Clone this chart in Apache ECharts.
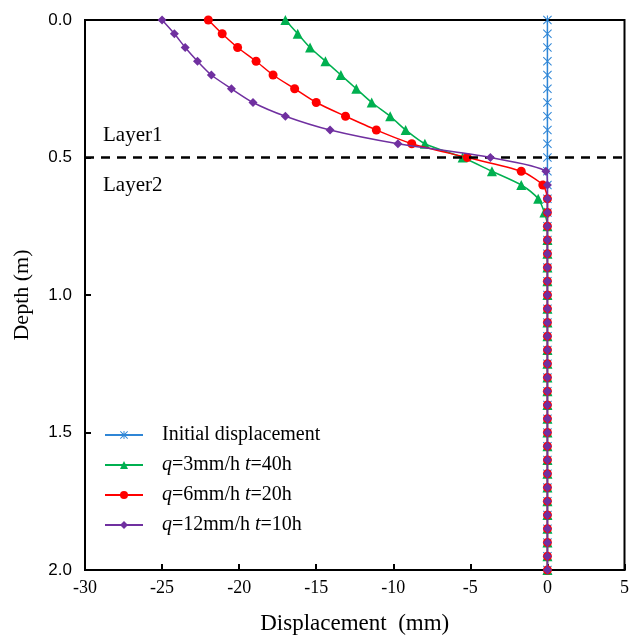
<!DOCTYPE html>
<html>
<head>
<meta charset="utf-8">
<script src="https://cdn.jsdelivr.net/npm/echarts@6/dist/echarts.min.js"></script>
<style>
  html, body { margin: 0; padding: 0; background: #fff; }
  #chart { width: 632px; height: 640px; }
</style>
</head>
<body>
<div id="chart"></div>
<script>
// Depth of each measuring point (m)
const depth = [0, 0.05, 0.1, 0.15, 0.2, 0.25, 0.3, 0.35, 0.4, 0.45, 0.5, 0.55, 0.6, 0.65, 0.7, 0.75, 0.8, 0.85, 0.9, 0.95,
  1.0, 1.05, 1.1, 1.15, 1.2, 1.25, 1.3, 1.35, 1.4, 1.45, 1.5, 1.55, 1.6, 1.65, 1.7, 1.75, 1.8, 1.85, 1.9, 1.95, 2.0];

// Horizontal displacement (mm) at each depth
const initialDisp = [0, 0, 0, 0, 0, 0, 0, 0, 0, 0, 0, 0, 0, 0, 0, 0, 0, 0, 0, 0,
  0, 0, 0, 0, 0, 0, 0, 0, 0, 0, 0, 0, 0, 0, 0, 0, 0, 0, 0, 0, 0];
const q3Disp = [-17.0, -16.2, -15.4, -14.4, -13.4, -12.4, -11.4, -10.2, -9.2, -7.95, -5.5, -3.6, -1.7, -0.6, -0.2, 0, 0, 0, 0, 0,
  0, 0, 0, 0, 0, 0, 0, 0, 0, 0, 0, 0, 0, 0, 0, 0, 0, 0, 0, 0, 0];
const q6Disp = [-22.0, -21.1, -20.1, -18.9, -17.8, -16.4, -15.0, -13.1, -11.1, -8.8, -5.2, -1.7, -0.3, 0, 0, 0, 0, 0, 0, 0,
  0, 0, 0, 0, 0, 0, 0, 0, 0, 0, 0, 0, 0, 0, 0, 0, 0, 0, 0, 0, 0];
const q12Disp = [-25.0, -24.2, -23.5, -22.7, -21.8, -20.5, -19.1, -17.0, -14.1, -9.7, -3.7, -0.1, 0, 0, 0, 0, 0, 0, 0, 0,
  0, 0, 0, 0, 0, 0, 0, 0, 0, 0, 0, 0, 0, 0, 0, 0, 0, 0, 0, 0, 0];

const seriesNames = ['Initial displacement', 'q=3mm/h t=40h', 'q=6mm/h t=20h', 'q=12mm/h t=10h'];
const layerBoundary = 0.5;
const layerLabels = ['Layer1', 'Layer2'];

const SERIF = '"Liberation Serif", "Times New Roman", serif';
const SANS = '"Liberation Sans", Arial, sans-serif';

// asterisk marker: vertical bar plus two diagonals
const asterisk = 'path://M4.4 0L5.6 0L5.6 10L4.4 10Z M0.8 0L10 9.2L9.2 10L0 0.8Z M9.2 0L10 0.8L0.8 10L0 9.2Z';

function pairs(values) {
  return values.map((v, i) => [v, depth[i]]);
}

const chart = echarts.init(document.getElementById('chart'), null, { renderer: 'canvas' });

const legendRich = {
  n: { fontFamily: SERIF, fontSize: 20, color: '#000' },
  i: { fontFamily: SERIF, fontSize: 20, color: '#000', fontStyle: 'italic' }
};

chart.setOption({
  animation: false,
  backgroundColor: '#fff',
  grid: {
    left: 85, right: 5, top: 20, bottom: 67,
    show: true, borderColor: '#000', borderWidth: 2, backgroundColor: 'transparent'
  },
  legend: {
    orient: 'vertical',
    left: 99, top: 420,
    itemWidth: 38, itemHeight: 10, itemGap: 10,
    data: seriesNames,
    textStyle: { fontFamily: SERIF, fontSize: 20, color: '#000', rich: legendRich, padding: [0, 0, 0, 14] },
    formatter: function (name) {
      const m = name.match(/^q=(.*) t=(.*)$/);
      if (!m) return '{n|' + name + '}';
      return '{i|q}{n|=' + m[1] + ' }{i|t}{n|=' + m[2] + '}';
    }
  },
  xAxis: {
    type: 'value', min: -30, max: 5, interval: 5,
    name: 'Displacement  (mm)', nameLocation: 'middle', nameGap: 42,
    nameTextStyle: { fontFamily: SERIF, fontSize: 23, color: '#000' },
    axisLine: { show: true, onZero: false, lineStyle: { color: '#000', width: 2 } },
    axisTick: { show: true, inside: true, length: 6, lineStyle: { color: '#000', width: 2 } },
    axisLabel: { fontFamily: SERIF, fontSize: 18, color: '#000', margin: 9 },
    splitLine: { show: false }
  },
  yAxis: {
    type: 'value', inverse: true, min: 0, max: 2, interval: 0.5,
    name: 'Depth (m)', nameLocation: 'middle', nameGap: 52, nameRotate: 90,
    nameTextStyle: { fontFamily: SERIF, fontSize: 22, color: '#000' },
    axisLine: { show: true, onZero: false, lineStyle: { color: '#000', width: 2 } },
    axisTick: { show: true, inside: true, length: 6, lineStyle: { color: '#000', width: 2 } },
    axisLabel: { fontFamily: SANS, fontSize: 17, color: '#000', margin: 13, formatter: v => v.toFixed(1) },
    splitLine: { show: false }
  },
  series: [
    {
      name: seriesNames[0], type: 'line', data: pairs(initialDisp),
      symbol: asterisk, symbolSize: 9,
      lineStyle: { color: '#2F86D6', width: 1.5 },
      itemStyle: { color: '#2F86D6' },
      z: 2,
      markLine: {
        silent: true, symbol: 'none', label: { show: false },
        lineStyle: { color: '#000', type: [9, 7], width: 2.5 },
        data: [{ yAxis: layerBoundary }]
      }
    },
    {
      name: seriesNames[1], type: 'line', data: pairs(q3Disp), smooth: 0.25,
      symbol: 'triangle', symbolSize: 10,
      lineStyle: { color: '#00B050', width: 1.5 },
      itemStyle: { color: '#00B050' },
      z: 3
    },
    {
      name: seriesNames[2], type: 'line', data: pairs(q6Disp), smooth: 0.25,
      symbol: 'circle', symbolSize: 9,
      lineStyle: { color: '#FF0000', width: 1.5 },
      itemStyle: { color: '#FF0000' },
      z: 4
    },
    {
      name: seriesNames[3], type: 'line', data: pairs(q12Disp), smooth: 0.25,
      symbol: 'diamond', symbolSize: 9,
      lineStyle: { color: '#7030A0', width: 1.5 },
      itemStyle: { color: '#7030A0' },
      z: 5
    }
  ],
  graphic: [
    { type: 'text', left: 103, top: 125, style: { text: layerLabels[0], fontFamily: SERIF, fontSize: 21, fill: '#000' } },
    { type: 'text', left: 103, top: 175, style: { text: layerLabels[1], fontFamily: SERIF, fontSize: 21, fill: '#000' } }
  ]
});
</script>
</body>
</html>
